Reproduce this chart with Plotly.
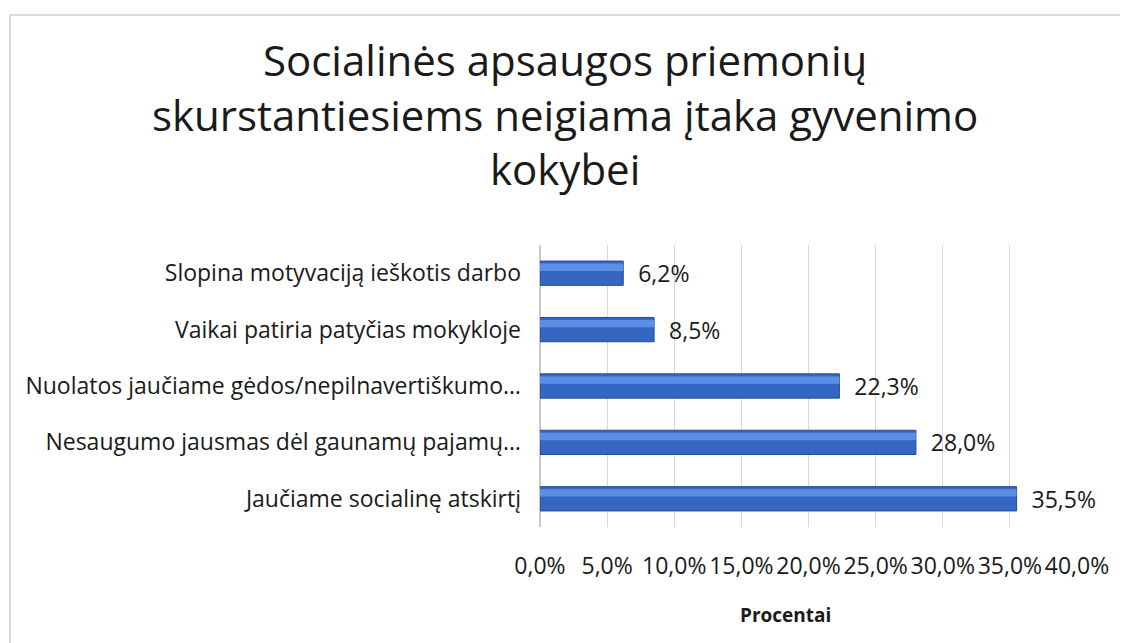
"""
Horizontal bar chart: negative impact of social protection measures.
"""
import plotly.graph_objects as go

# Data (top to bottom as shown)
CATEGORIES = [
    'Slopina motyvaciją ieškotis darbo',
    'Vaikai patiria patyčias mokykloje',
    'Nuolatos jaučiame gėdos/nepilnavertiškumo…',
    'Nesaugumo jausmas dėl gaunamų pajamų…',
    'Jaučiame socialinę atskirtį',
]
VALUES = [6.2, 8.5, 22.3, 28.0, 35.5]
X_TICKS = [0, 5, 10, 15, 20, 25, 30, 35, 40]
X_TICK_TEXT = [f'{v:.1f}%'.replace('.', ',') for v in X_TICKS]

TITLE = ('Socialinės apsaugos priemonių<br>'
         'skurstantiesiems neigiama įtaka gyvenimo<br>'
         'kokybei')
AXIS_TITLE = 'Procentai'

FONT = 'Open Sans, sans-serif'
TXT = '#1a1a1a'

# page body has an 8px margin, so figure coords = window coords - 8
W, H = 1120, 635
L, R, T, B = 532, 51, 237, 116
PW, PH = W - L - R, H - T - B

fig = go.Figure()

# main bar body
fig.add_trace(go.Bar(
    y=CATEGORIES,
    x=VALUES,
    orientation='h',
    width=0.43,
    marker=dict(color='#3566c4', line=dict(color='#25488f', width=1)),
    texttemplate='\u00a0\u00a0%{x:.1f}%',
    textposition='outside',
    constraintext='none',
    textfont=dict(size=23, color=TXT, family=FONT),
    cliponaxis=False,
    hoverinfo='skip',
    showlegend=False,
))

# lighter highlight band on the upper part of each bar
fig.add_trace(go.Bar(
    y=CATEGORIES,
    x=VALUES,
    orientation='h',
    width=0.13,
    offset=-0.17,
    marker=dict(color='#5b8fe5', line=dict(width=0)),
    hoverinfo='skip',
    showlegend=False,
))

fig.update_layout(
    width=W, height=H,
    margin=dict(l=L, r=R, t=T, b=B),
    paper_bgcolor='white',
    plot_bgcolor='white',
    barmode='overlay',
    separators=', ',
    font=dict(family=FONT, color=TXT),
    xaxis=dict(
        range=[0, 40],
        tickvals=X_TICKS,
        ticktext=X_TICK_TEXT,
        tickangle=0,
        showgrid=True,
        gridcolor='#d9d9d9',
        gridwidth=1,
        zeroline=True,
        zerolinecolor='#c8c8c8',
        showline=False,
        ticks='',
        ticklabelstandoff=23,
        tickfont=dict(size=23, family=FONT, color=TXT),
    ),
    yaxis=dict(
        autorange='reversed',
        showgrid=False,
        showline=False,
        ticks='',
        ticklabelstandoff=18,
        tickfont=dict(size=23, family=FONT, color=TXT),
    ),
    annotations=[
        dict(
            text=TITLE,
            xref='paper', yref='paper',
            x=(557 - L) / PW, y=((H - B) - 106) / PH,
            xanchor='center', yanchor='middle',
            showarrow=False,
            font=dict(size=42, family=FONT, color=TXT),
        ),
        dict(
            text=f'<b>{AXIS_TITLE}</b>',
            xref='paper', yref='paper',
            x=(777 - L) / PW, y=-(607 - (H - B)) / PH,
            xanchor='center', yanchor='middle',
            showarrow=False,
            font=dict(size=19, family=FONT, color=TXT),
        ),
    ],
    shapes=[dict(
        type='rect', xref='paper', yref='paper',
        x0=(2 - L) / PW, x1=1.2,
        y0=-0.5, y1=((H - B) - 7) / PH,
        line=dict(color='#d9d9d9', width=2),
        layer='below',
    )],
)

fig.write_html('out.html')
